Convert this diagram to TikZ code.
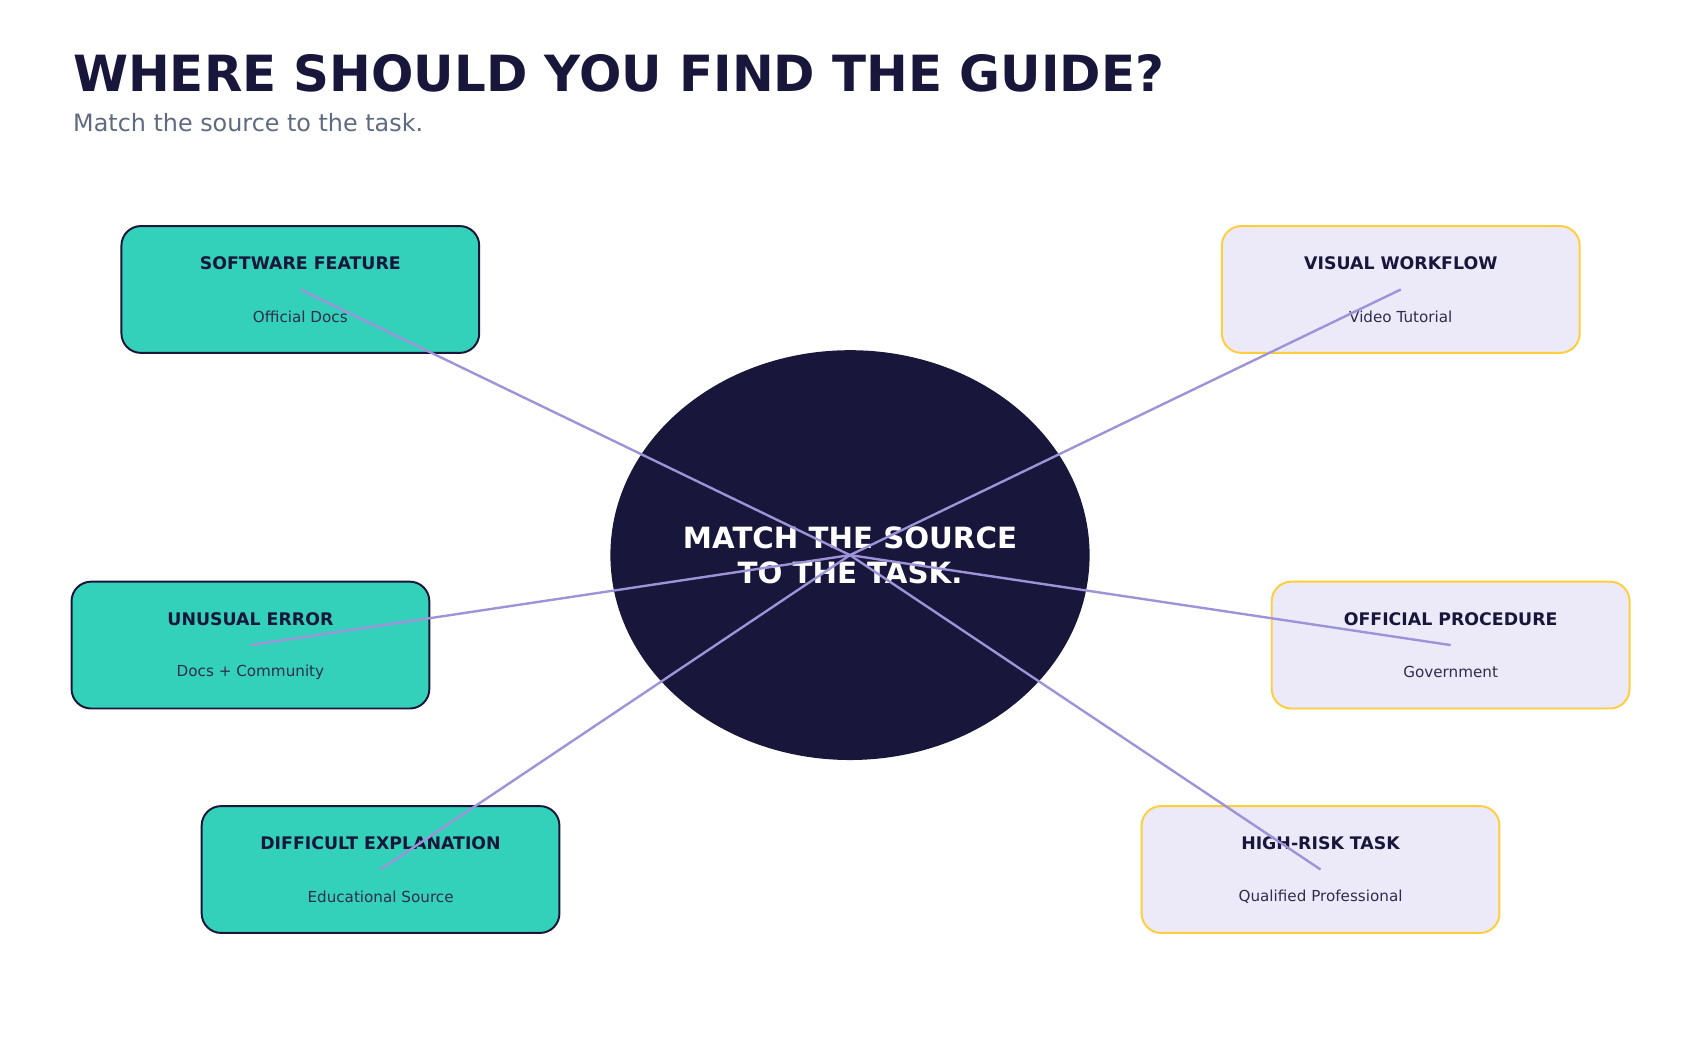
\documentclass[tikz,border=0pt]{standalone}
\usepackage{fontspec}
\setmainfont{DejaVu Sans}
\usetikzlibrary{shapes.geometric}
\definecolor{navy}{HTML}{18163A}
\definecolor{teal}{HTML}{33D1BA}
\definecolor{lav}{HTML}{ECE9F9}
\definecolor{gold}{HTML}{FFCE3A}
\definecolor{line}{HTML}{9D93D8}
\definecolor{grey}{HTML}{5E6A80}
\begin{document}
\begin{tikzpicture}[x=1pt,y=-1pt,
  box/.style={rounded corners=18pt,minimum width=330pt,minimum height=117pt,line width=1.8pt},
  lbox/.style={box,fill=teal,draw=navy},
  rbox/.style={box,fill=lav,draw=gold},
  ttl/.style={font=\bfseries\fontsize{16}{18}\selectfont,text=navy},
  sub/.style={font=\fontsize{14}{16}\selectfont,text=navy!90},
  conn/.style={draw=line,line width=2.2pt}]
\useasboundingbox (0,0) rectangle (1568,968.5);
\node[anchor=base west,font=\bfseries\fontsize{46}{50}\selectfont,text=navy] (title) at (64,84) {WHERE SHOULD YOU FIND THE GUIDE?};
\node[anchor=base west,font=\fontsize{22}{26}\selectfont,text=grey] (subt) at (64,121) {Match the source to the task.};
\node[ellipse,fill=navy,minimum width=442pt,minimum height=378pt,inner sep=0pt] (c) at (784,512) {};
\node[align=center,text=white,font=\bfseries\fontsize{27}{32}\selectfont] (ct) at (784,512) {MATCH THE SOURCE\\TO THE TASK.};
\foreach \n/\x/\y/\s/\t/\u in {a/277/267/lbox/SOFTWARE FEATURE/Official Docs,
  b/231/595/lbox/UNUSUAL ERROR/Docs + Community,
  d/351/802/lbox/DIFFICULT EXPLANATION/Educational Source / AI,
  e/1292/267/rbox/VISUAL WORKFLOW/Video Tutorial,
  f/1338/595/rbox/OFFICIAL PROCEDURE/Government / Authority,
  g/1218/802/rbox/HIGH-RISK TASK/Qualified Professional}{
  \node[\s] (\n) at (\x,\y) {};
  \node[ttl] (\n t) at (\x,\y-24) {\t};
  \node[sub] (\n s) at (\x,\y+25) {\u};
  \coordinate (\n c) at (\x,\y);
}
\foreach \n in {a,b,d,e,f,g}{\draw[conn] (\n c) -- (c.center);}
\end{tikzpicture}
\end{document}
